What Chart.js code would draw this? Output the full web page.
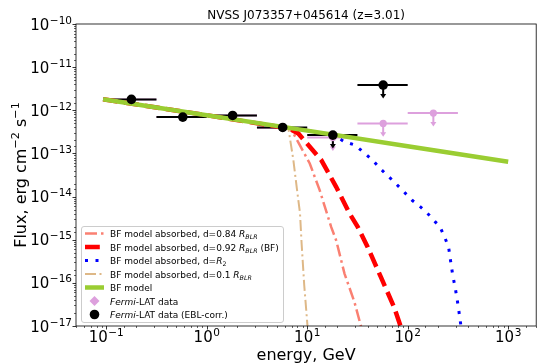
<!DOCTYPE html>
<html>
<head>
<meta charset="utf-8">
<script src="https://cdn.jsdelivr.net/npm/chart.js@4.4.0/dist/chart.umd.min.js"></script>
<style>
html, body { margin: 0; padding: 0; background: #fff; overflow: hidden; }
#wrap { width: 541px; height: 364px; position: relative; }
</style>
</head>
<body>
<div id="wrap"><canvas id="sed"></canvas></div>
<script>
// Fermi-LAT bins (GeV) and fluxes (erg cm^-2 s^-1)
const binE = [0.178, 0.578, 1.81, 5.7, 18.0, 57, 180];
const binLo = [0.094, 0.316, 1, 3.16, 10, 31.6, 100];
const binHi = [0.316, 1, 3.16, 10, 31.6, 100, 316];
const latFlux = [1.79e-12, 6.95e-13, 7.6e-13, 3.9e-13, 2.33e-13, 4.97e-13, 8.6e-13];
const latUL = [false, false, false, false, true, true, true];
const eblFlux = [1.79e-12, 6.95e-13, 7.6e-13, 4.0e-13, 2.66e-13, 3.85e-12];
const eblUL = [false, false, false, false, true, true];

// best-fit model and its absorbed versions
const bfE = [0.093, 1, 10, 100, 1000];
const bfFlux = [1.8e-12, 7.7e-13, 3.38e-13, 1.47e-13, 6.4e-14];

const d084E = [0.093, 1, 6, 7.0, 10.6, 13.3, 17.3, 19.4, 23.5, 29.5, 34.3, 36];
const d084Flux = [1.8e-12, 7.7e-13, 3.9e-13, 3.47e-13, 5.86e-14, 1.41e-14, 1.98e-15, 9.7e-16, 1.64e-16, 3.6e-17, 9.8e-18, 6e-18];

const d092E = [0.093, 1, 6.5, 8.15, 13.8, 19.4, 26.4, 31.8, 39.9, 54.0, 73.1, 85.0, 90];
const d092Flux = [1.8e-12, 7.7e-13, 3.8e-13, 2.91e-13, 7.0e-14, 1.68e-14, 4.05e-15, 1.98e-15, 6.8e-16, 1.37e-16, 2.76e-17, 9.8e-18, 6e-18];

const r2E = [0.093, 1, 10, 18.0, 23.5, 29.9, 37.5, 44.7, 55.2, 70.3, 88.3, 110.7, 133.7, 164, 188, 210, 236, 255, 279, 300, 319, 339, 350];
const r2Flux = [1.8e-12, 7.7e-13, 3.38e-13, 2.73e-13, 1.86e-13, 1.56e-13, 1.0e-13, 7.0e-14, 4.1e-14, 2.4e-14, 1.41e-14, 8.2e-15, 5.8e-15, 3.7e-15, 2.59e-15, 1.98e-15, 1.07e-15, 6.8e-16, 1.64e-16, 6.7e-17, 2.76e-17, 9.8e-18, 6e-18];

const d01E = [0.093, 1, 5.8, 6.5, 7.28, 7.85, 8.48, 8.79, 9.34, 10.07, 10.3];
const d01Flux = [1.8e-12, 7.7e-13, 4.07e-13, 3.8e-13, 7.0e-14, 1.68e-14, 4.05e-15, 8.3e-16, 8.8e-17, 9.85e-18, 5e-18];

const xDecades = [-1, 0, 1, 2, 3];
const yDecades = [-17, -16, -15, -14, -13, -12, -11, -10];

const FONT = '"DejaVu Sans", sans-serif';
const ulFrac = 0.5; // upper-limit arrows run down to half the limit

const pts = (xs, ys) => xs.map((e, i) => ({ x: e, y: ys[i] }));

const lineDs = (label, xs, ys, color, width, dash, order) => ({
    type: 'line',
    label,
    data: pts(xs, ys),
    borderColor: color,
    borderWidth: width,
    borderDash: dash,
    borderCapStyle: 'butt',
    pointRadius: 0,
    fill: false,
    tension: 0,
    clip: 0,
    order
});

const datasets = [
    lineDs('BF model absorbed, d=0.84 R_BLR', d084E, d084Flux, '#fa8072', 2.5, [12, 4, 2.5, 4], 7),
    lineDs('BF model absorbed, d=0.92 R_BLR (BF)', d092E, d092Flux, '#ff0000', 4.5, [14.8, 6.4], 6),
    lineDs('BF model absorbed, d=R_2', r2E, r2Flux, '#0000ff', 3, [3, 7.5], 5),
    lineDs('BF model absorbed, d=0.1 R_BLR', d01E, d01Flux, '#deb887', 2, [11, 3.5, 2, 3.5], 4),
    lineDs('BF model', bfE, bfFlux, '#9acd32', 4.5, [], 3),
    {
        type: 'scatter', label: 'Fermi-LAT data', data: pts(binE, latFlux),
        pointRadius: 3.6, pointBackgroundColor: '#dda0dd', pointBorderWidth: 0, borderWidth: 0, order: 2
    },
    {
        type: 'scatter', label: 'Fermi-LAT data (EBL-corr.)', data: pts(binE.slice(0, 6), eblFlux),
        pointRadius: 4.8, pointBackgroundColor: '#000', pointBorderWidth: 0, borderWidth: 0, order: 1
    }
];

// horizontal bin bars and upper-limit arrows
function drawErrors(chart, fl, ul, color) {
    const { ctx, scales: { x, y } } = chart;
    ctx.save();
    ctx.strokeStyle = color;
    ctx.fillStyle = color;
    ctx.lineWidth = 2;
    fl.forEach((f, i) => {
        const py = y.getPixelForValue(f);
        ctx.beginPath();
        ctx.moveTo(x.getPixelForValue(binLo[i]), py);
        ctx.lineTo(x.getPixelForValue(binHi[i]), py);
        ctx.stroke();
        if (ul[i]) {
            const px = x.getPixelForValue(binE[i]);
            const tip = y.getPixelForValue(f * ulFrac);
            ctx.beginPath();
            ctx.moveTo(px, py);
            ctx.lineTo(px, tip - 3);
            ctx.stroke();
            ctx.beginPath();
            ctx.moveTo(px - 3, tip - 4);
            ctx.lineTo(px + 3, tip - 4);
            ctx.lineTo(px, tip + 0.5);
            ctx.closePath();
            ctx.fill();
        }
    });
    ctx.restore();
}

const errorBars = {
    id: 'errorBars',
    beforeDatasetsDraw(chart) {
        drawErrors(chart, latFlux, latUL, '#dda0dd');
        drawErrors(chart, eblFlux, eblUL, '#000');
    }
};

// text with italic / sub / superscript pieces
function drawRich(ctx, parts, x, y, size, dry) {
    let cx = x;
    for (const p of parts) {
        const small = p.sub || p.sup;
        const s = small ? size * 0.7 : size;
        ctx.font = (p.it ? 'italic ' : '') + s + 'px ' + FONT;
        const dy = p.sub ? size * 0.25 : p.sup ? -size * 0.42 : 0;
        if (!dry) ctx.fillText(p.t, cx, y + dy);
        cx += ctx.measureText(p.t).width;
    }
    return cx - x;
}

function drawPow(ctx, exp, x, y, align) {
    const base = '10';
    const sup = (exp < 0 ? '\u2212' : '') + Math.abs(exp);
    ctx.font = '15px ' + FONT;
    const wb = ctx.measureText(base).width;
    ctx.font = '10.5px ' + FONT;
    const ws = ctx.measureText(sup).width;
    const w = wb + ws + 0.5;
    const x0 = align === 'center' ? x - w / 2 : x - w;
    ctx.font = '15px ' + FONT;
    ctx.fillText(base, x0, y);
    ctx.font = '10.5px ' + FONT;
    ctx.fillText(sup, x0 + wb + 0.5, y - 6);
}

const isDecade = v => Math.abs(Math.log10(v) - Math.round(Math.log10(v))) < 1e-6;

const frame = {
    id: 'frame',
    afterDraw(chart) {
        const { ctx, chartArea: a, scales: { x, y } } = chart;
        ctx.save();
        ctx.strokeStyle = '#000';
        ctx.fillStyle = '#000';

        // ticks
        x.ticks.forEach(t => {
            const px = Math.round(x.getPixelForValue(t.value)) + 0.5;
            if (px < a.left - 0.5 || px > a.right + 0.5) return;
            const major = isDecade(t.value);
            ctx.lineWidth = major ? 0.8 : 0.6;
            ctx.beginPath();
            ctx.moveTo(px, a.bottom);
            ctx.lineTo(px, a.bottom + (major ? 3.5 : 2));
            ctx.stroke();
        });
        y.ticks.forEach(t => {
            const py = Math.round(y.getPixelForValue(t.value)) + 0.5;
            if (py < a.top - 0.5 || py > a.bottom + 0.5) return;
            const major = isDecade(t.value);
            ctx.lineWidth = major ? 0.8 : 0.6;
            ctx.beginPath();
            ctx.moveTo(a.left, py);
            ctx.lineTo(a.left - (major ? 3.5 : 2), py);
            ctx.stroke();
        });

        // spines
        ctx.lineWidth = 0.8;
        ctx.strokeRect(a.left, a.top, a.right - a.left, a.bottom - a.top);

        // tick labels
        ctx.textAlign = 'left';
        ctx.textBaseline = 'alphabetic';
        xDecades.forEach(d => drawPow(ctx, d, x.getPixelForValue(Math.pow(10, d)), a.bottom + 16, 'center'));
        yDecades.forEach(d => drawPow(ctx, d, a.left - 4, y.getPixelForValue(Math.pow(10, d)) + 5.5, 'right'));

        // title and axis labels
        const cx = (a.left + a.right) / 2;
        ctx.font = '12px ' + FONT;
        ctx.textAlign = 'center';
        ctx.fillText('NVSS J073357+045614 (z=3.01)', cx, 19);
        ctx.font = '16px ' + FONT;
        ctx.fillText('energy, GeV', cx, 360);

        ctx.textAlign = 'left';
        const ylab = [{ t: 'Flux, erg cm' }, { t: '\u22122', sup: true }, { t: ' s' }, { t: '\u22121', sup: true }];
        const w = drawRich(ctx, ylab, 0, 0, 16, true);
        ctx.translate(26, (a.top + a.bottom) / 2 + w / 2);
        ctx.rotate(-Math.PI / 2);
        drawRich(ctx, ylab, 0, 0, 16, false);
        ctx.restore();
    }
};

// legend drawn from the dataset styles
const legendRows = [
    [{ t: 'BF model absorbed, d=0.84 ' }, { t: 'R', it: true }, { t: 'BLR', it: true, sub: true }],
    [{ t: 'BF model absorbed, d=0.92 ' }, { t: 'R', it: true }, { t: 'BLR', it: true, sub: true }, { t: ' (BF)' }],
    [{ t: 'BF model absorbed, d=' }, { t: 'R', it: true }, { t: '2', sub: true }],
    [{ t: 'BF model absorbed, d=0.1 ' }, { t: 'R', it: true }, { t: 'BLR', it: true, sub: true }],
    [{ t: 'BF model' }],
    [{ t: 'Fermi', it: true }, { t: '-LAT data' }],
    [{ t: 'Fermi', it: true }, { t: '-LAT data (EBL-corr.)' }]
];

const legendBox = {
    id: 'legendBox',
    afterDraw(chart) {
        const { ctx, chartArea: a } = chart;
        const bx = a.left + 5, by = a.bottom - 100, bw = 202, bh = 96;
        ctx.save();
        ctx.beginPath();
        ctx.roundRect(bx + 0.5, by + 0.5, bw, bh, 2.5);
        ctx.fillStyle = 'rgba(255,255,255,0.8)';
        ctx.fill();
        ctx.strokeStyle = '#cccccc';
        ctx.lineWidth = 1;
        ctx.stroke();

        legendRows.forEach((row, i) => {
            const ds = chart.data.datasets[i];
            const ry = by + 7.5 + i * 13.5;
            const hx0 = bx + 4, hx1 = bx + 23, hc = (hx0 + hx1) / 2;
            if (ds.type === 'line') {
                ctx.save();
                ctx.strokeStyle = ds.borderColor;
                ctx.lineWidth = ds.borderWidth;
                ctx.setLineDash(ds.borderDash);
                ctx.beginPath();
                ctx.moveTo(hx0, ry);
                ctx.lineTo(hx1, ry);
                ctx.stroke();
                ctx.restore();
            } else if (i === 5) {
                ctx.fillStyle = ds.pointBackgroundColor;
                ctx.beginPath();
                ctx.moveTo(hc, ry - 5);
                ctx.lineTo(hc + 5, ry);
                ctx.lineTo(hc, ry + 5);
                ctx.lineTo(hc - 5, ry);
                ctx.closePath();
                ctx.fill();
            } else {
                ctx.fillStyle = ds.pointBackgroundColor;
                ctx.beginPath();
                ctx.arc(hc, ry, 4.8, 0, Math.PI * 2);
                ctx.fill();
            }
            ctx.fillStyle = '#000';
            ctx.textAlign = 'left';
            ctx.textBaseline = 'alphabetic';
            drawRich(ctx, row, bx + 29, ry + 3.5, 9, false);
        });
        ctx.restore();
    }
};

new Chart(document.getElementById('sed'), {
    data: { datasets },
    options: {
        responsive: true,
        maintainAspectRatio: false,
        animation: false,
        layout: { padding: { left: 76, top: 24, right: 1, bottom: 38 } },
        plugins: { legend: { display: false }, tooltip: { enabled: false }, title: { display: false } },
        scales: {
            x: {
                type: 'logarithmic', min: 0.05, max: 1900,
                grid: { display: false, drawTicks: false, tickLength: 0 },
                border: { display: false },
                ticks: { display: false }
            },
            y: {
                type: 'logarithmic', min: 1e-17, max: 1e-10,
                grid: { display: false, drawTicks: false, tickLength: 0 },
                border: { display: false },
                ticks: { display: false }
            }
        }
    },
    plugins: [errorBars, frame, legendBox]
});
</script>
</body>
</html>
